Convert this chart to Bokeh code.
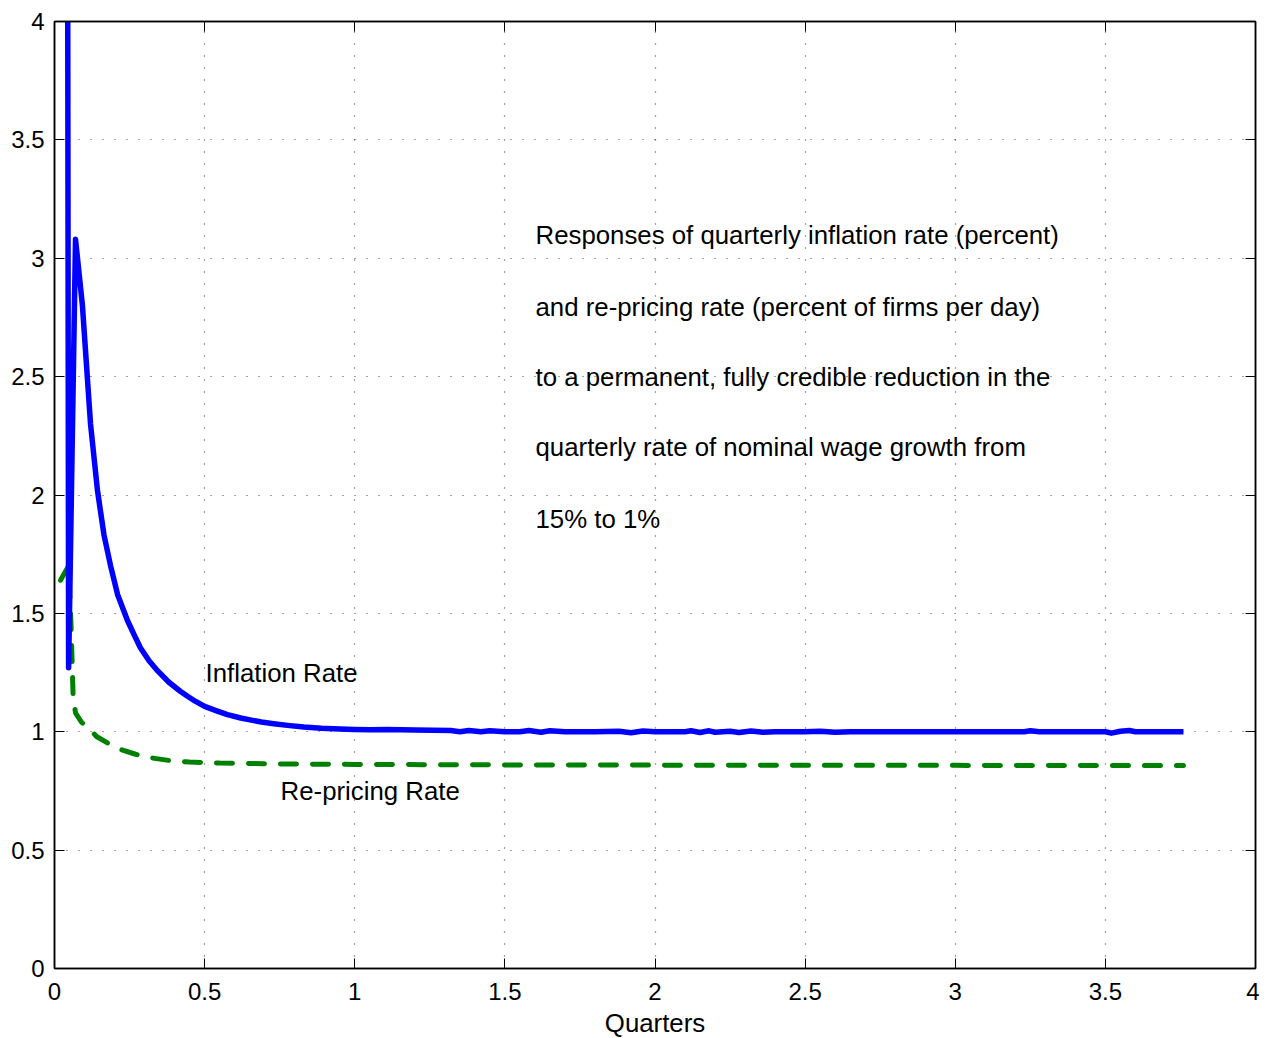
from bokeh.plotting import figure
from bokeh.models import Range1d, LinearAxis, FixedTicker, ColumnDataSource
from bokeh.core.properties import value
from bokeh.embed import file_html
from bokeh.resources import INLINE

# ---- data ----
ticks = [0, 0.5, 1, 1.5, 2, 2.5, 3, 3.5, 4]
tick_labels = ["0", "0.5", "1", "1.5", "2", "2.5", "3", "3.5", "4"]

infl_x = [0.04, 0.047, 0.07, 0.093, 0.12, 0.143, 0.165, 0.187, 0.21, 0.243, 0.265, 0.286,
          0.315, 0.343, 0.38, 0.42, 0.443, 0.47, 0.5, 0.54, 0.576, 0.62, 0.66, 0.689, 0.73,
          0.776, 0.83, 0.889, 0.95, 1.0, 1.05, 1.109, 1.2, 1.32, 1.35, 1.38, 1.42, 1.45, 1.5,
          1.55, 1.58, 1.62, 1.65, 1.7, 1.8, 1.88, 1.92, 1.96, 2.0, 2.1, 2.12, 2.15, 2.18, 2.2,
          2.25, 2.28, 2.32, 2.36, 2.4, 2.5, 2.55, 2.6, 2.65, 3.0, 3.23, 3.25, 3.28, 3.5, 3.52,
          3.55, 3.58, 3.6, 3.76]
infl_y = [8.0, 1.27, 3.08, 2.80, 2.30, 2.02, 1.83, 1.70, 1.58, 1.47, 1.41, 1.355,
          1.30, 1.258, 1.21, 1.17, 1.15, 1.128, 1.107, 1.088, 1.072, 1.058, 1.048, 1.041, 1.034,
          1.027, 1.02, 1.015, 1.012, 1.01, 1.008, 1.009, 1.007, 1.005, 1.0, 1.005, 1.0, 1.004, 1.0,
          1.0, 1.005, 0.998, 1.004, 1.0, 1.0, 1.002, 0.996, 1.003, 1.0, 1.0, 1.004, 0.997, 1.004, 0.998,
          1.002, 0.997, 1.003, 0.998, 1.0, 1.0, 1.002, 0.998, 1.0, 1.0, 1.0, 1.004, 1.0, 1.0, 0.994,
          1.002, 1.005, 1.0, 1.0]

rep_x = [0.02, 0.047, 0.055, 0.062, 0.07, 0.09, 0.11, 0.14, 0.18, 0.22, 0.27, 0.32, 0.38,
         0.45, 0.55, 0.7, 0.85, 1.0, 1.5, 2.0, 2.5, 3.0, 3.5, 3.76]
rep_y = [1.64, 1.70, 1.45, 1.15, 1.08, 1.04, 1.02, 0.98, 0.95, 0.925, 0.905, 0.89, 0.879,
         0.872, 0.868, 0.865, 0.863, 0.862, 0.86, 0.859, 0.858, 0.858, 0.857, 0.857]

note_lines = ["Responses of quarterly inflation rate (percent)",
              "and re-pricing rate (percent of firms per day)",
              "to a permanent, fully credible reduction in the",
              "quarterly rate of nominal wage growth from",
              "15% to 1%"]
note_x = [1.602, 1.602, 1.602, 1.602, 1.602]
note_y = [3.10, 2.796, 2.50, 2.201, 1.897]

series_labels = ["Inflation Rate", "Re-pricing Rate"]
series_label_x = [0.503, 0.753]
series_label_y = [1.25, 0.748]

FONT = "Liberation Sans"

p = figure(frame_width=1201, frame_height=947, output_backend="svg", toolbar_location=None,
           x_range=Range1d(0, 4), y_range=Range1d(0, 4),
           min_border_left=54, min_border_top=21, min_border_right=4, min_border_bottom=4,
           background_fill_color="white", border_fill_color="white")

p.outline_line_color = "black"
p.outline_line_width = 1.5

ticker = FixedTicker(ticks=ticks)
overrides = {t: l for t, l in zip(ticks, tick_labels)}
overrides.update({float(t): l for t, l in zip(ticks, tick_labels)})
blank = {t: "" for t in ticks}
blank.update({float(t): "" for t in ticks})

for ax in p.xaxis + p.yaxis:
    ax.ticker = ticker
    ax.major_label_overrides = overrides
    ax.major_tick_in = 10
    ax.major_tick_out = 0
    ax.minor_tick_line_color = None
    ax.axis_line_color = "black"
    ax.axis_line_width = 1.5
    ax.major_tick_line_color = "black"
    ax.major_label_text_font = FONT
    ax.major_label_text_font_size = "24px"
    ax.major_label_text_color = "black"

p.xaxis.major_label_standoff = 14
p.yaxis.major_label_standoff = 10
p.xaxis.axis_label = "Quarters"
p.xaxis.axis_label_text_font = FONT
p.xaxis.axis_label_text_font_size = "25.8px"
p.xaxis.axis_label_text_font_style = "normal"
p.xaxis.axis_label_text_color = "black"
p.xaxis.axis_label_standoff = 6

for loc in ["above", "right"]:
    ax = LinearAxis(ticker=ticker, major_tick_in=10, major_tick_out=0,
                    minor_tick_line_color=None, axis_line_color="black", axis_line_width=1.5,
                    major_label_overrides=blank, major_label_text_font_size="10px",
                    major_label_standoff=0)
    p.add_layout(ax, loc)

for g in [p.xgrid[0], p.ygrid[0]]:
    g.ticker = ticker
    g.grid_line_color = "#444444"
    g.grid_line_dash = "1 11"
    g.grid_line_width = 1.2

p.line(rep_x, rep_y, line_color="#008000", line_width=5, line_dash="16 16", line_cap="round")
p.line(infl_x, infl_y, line_color="#0000FF", line_width=5.5, line_join="round")

src_notes = ColumnDataSource(dict(x=note_x, y=note_y, t=note_lines))
p.text(x="x", y="y", text="t", source=src_notes, text_font=value(FONT), text_font_size="25.8px",
       text_baseline="middle", text_align="left", text_color="black")

src_lab = ColumnDataSource(dict(x=series_label_x, y=series_label_y, t=series_labels))
p.text(x="x", y="y", text="t", source=src_lab, text_font=value(FONT), text_font_size="25.8px",
       text_baseline="middle", text_align="left", text_color="black")

open("out.html", "w").write(file_html(p, INLINE))
